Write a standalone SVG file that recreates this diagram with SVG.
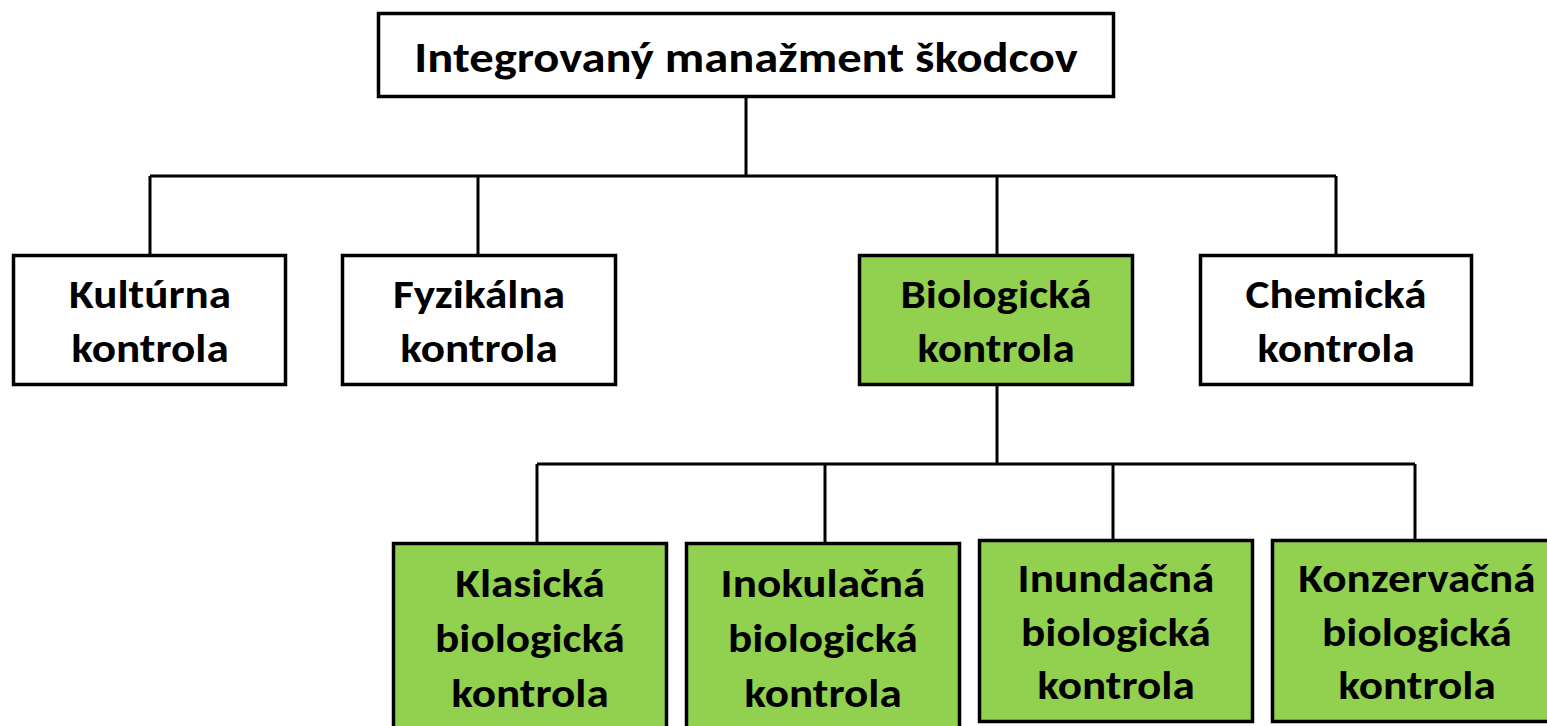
<svg xmlns="http://www.w3.org/2000/svg" width="1547" height="726" viewBox="0 0 1547 726">
<style>
.box{stroke:#000;stroke-width:3.5}
.w{fill:#fff}
.g{fill:#92D050}
.t{font-family:Carlito,Lato,"Liberation Sans",sans-serif;font-weight:bold;font-size:40px;fill:#000;text-anchor:middle}
.h{font-size:43px}
.c{stroke:#000;stroke-width:3;fill:none}
</style>
<rect width="1547" height="726" fill="#fff"/>
<g id="connectors">
<path class="c" d="M746,97 V176 M150,176 H1336 M150,176 V255 M478,176 V255 M997,176 V255 M1336,176 V255"/>
<path class="c" d="M997,385 V464 M537,464 H1415 M537,464 V543 M825,464 V543 M1113,464 V540 M1415,464 V540"/>
</g>
<g id="root"><rect class="box w" x="378.5" y="13.5" width="735" height="83"/><text class="t h" transform="translate(746,72) scale(1.13,1)">Integrovaný manažment škodcov</text></g>
<g id="kulturna"><rect class="box w" x="13.5" y="255.5" width="272" height="129"/><text class="t" transform="translate(150,308) scale(1.13,1)">Kultúrna</text><text class="t" transform="translate(150,362) scale(1.13,1)">kontrola</text></g>
<g id="fyzikalna"><rect class="box w" x="342.5" y="255.5" width="273" height="129"/><text class="t" transform="translate(479,308) scale(1.13,1)">Fyzikálna</text><text class="t" transform="translate(479,362) scale(1.13,1)">kontrola</text></g>
<g id="biologicka"><rect class="box g" x="859.5" y="255.5" width="273" height="129"/><text class="t" transform="translate(996,308) scale(1.13,1)">Biologická</text><text class="t" transform="translate(996,362) scale(1.13,1)">kontrola</text></g>
<g id="chemicka"><rect class="box w" x="1200.5" y="255.5" width="271" height="129"/><text class="t" transform="translate(1336,308) scale(1.13,1)">Chemická</text><text class="t" transform="translate(1336,362) scale(1.13,1)">kontrola</text></g>
<g id="klasicka"><rect class="box g" x="393.5" y="543.5" width="273" height="200"/><text class="t" transform="translate(530,597) scale(1.13,1)">Klasická</text><text class="t" transform="translate(530,652) scale(1.13,1)">biologická</text><text class="t" transform="translate(530,707) scale(1.13,1)">kontrola</text></g>
<g id="inokulacna"><rect class="box g" x="686.5" y="543.5" width="273" height="200"/><text class="t" transform="translate(823,597) scale(1.13,1)">Inokulačná</text><text class="t" transform="translate(823,652) scale(1.13,1)">biologická</text><text class="t" transform="translate(823,707) scale(1.13,1)">kontrola</text></g>
<g id="inundacna"><rect class="box g" x="979.5" y="540.5" width="273" height="181"/><text class="t" transform="translate(1116,592) scale(1.13,1)">Inundačná</text><text class="t" transform="translate(1116,646) scale(1.13,1)">biologická</text><text class="t" transform="translate(1116,699) scale(1.13,1)">kontrola</text></g>
<g id="konzervacna"><rect class="box g" x="1272.5" y="540.5" width="290" height="181"/><text class="t" transform="translate(1417,592) scale(1.13,1)">Konzervačná</text><text class="t" transform="translate(1417,646) scale(1.13,1)">biologická</text><text class="t" transform="translate(1417,699) scale(1.13,1)">kontrola</text></g>
</svg>
